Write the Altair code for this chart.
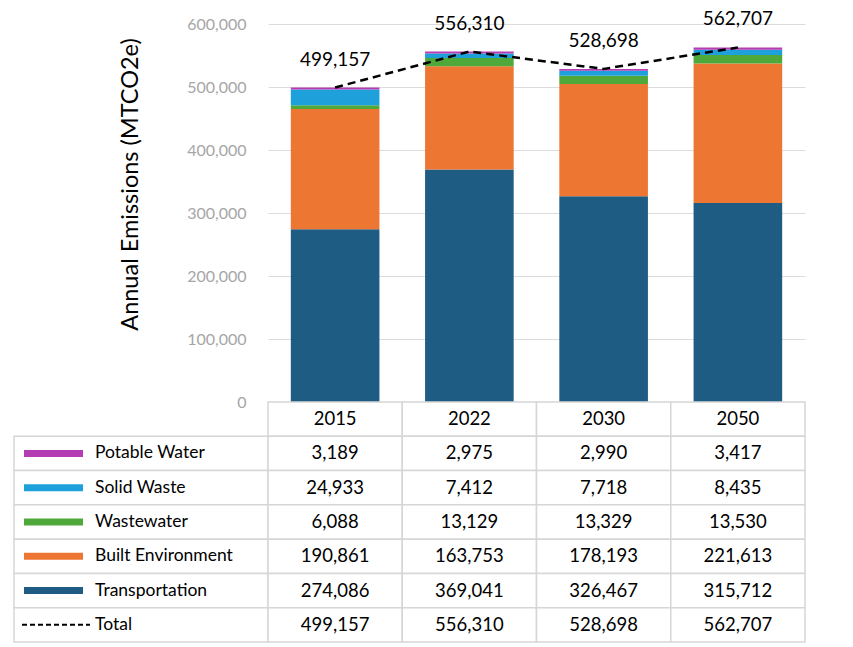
import altair as alt
import pandas as pd

years = ["2015", "2022", "2030", "2050"]
categories = ["Transportation", "Built Environment", "Wastewater", "Solid Waste", "Potable Water"]
colors = ["#1f5c83", "#ed7633", "#4ea93a", "#1ea0da", "#b53db4"]

transportation = [274086, 369041, 326467, 315712]
built_environment = [190861, 163753, 178193, 221613]
wastewater = [6088, 13129, 13329, 13530]
solid_waste = [24933, 7412, 7718, 8435]
potable_water = [3189, 2975, 2990, 3417]
total = [499157, 556310, 528698, 562707]

y_ticks = [0, 100000, 200000, 300000, 400000, 500000, 600000]
table_rows = ["header", "Potable Water", "Solid Waste", "Wastewater",
              "Built Environment", "Transportation", "Total"]

FONT = "Lato"

series = {
    "Transportation": transportation,
    "Built Environment": built_environment,
    "Wastewater": wastewater,
    "Solid Waste": solid_waste,
    "Potable Water": potable_water,
}

bar_records = []
for idx, cat in enumerate(categories):
    for y, v in zip(years, series[cat]):
        bar_records.append({"year": y, "category": cat, "value": v, "idx": idx})
bars_df = pd.DataFrame(bar_records)
tot_df = pd.DataFrame({"year": years, "value": total})

color_scale = alt.Scale(domain=categories, range=colors)
x_top = alt.X("year:N", sort=years, axis=None,
              scale=alt.Scale(paddingInner=0.34, paddingOuter=0.17))

y_axis = alt.Axis(values=y_ticks, format=",.0f", title="Annual Emissions (MTCO2e)",
                  labelColor="#a6a6a6", labelFontSize=16, labelPadding=22,
                  titleFontSize=23.5, titleFontWeight="normal", titleColor="black",
                  titleX=-138, titleY=160, titleAngle=270, titleBaseline="middle",
                  domain=False, ticks=False,
                  gridColor="#dcdcdc", labelFont=FONT, titleFont=FONT)
y_scale = alt.Scale(domain=[0, 600000])

bars = alt.Chart(bars_df).mark_bar().encode(
    x=x_top,
    y=alt.Y("value:Q", stack="zero", scale=y_scale, axis=y_axis),
    color=alt.Color("category:N", scale=color_scale, legend=None),
    order=alt.Order("idx:Q"),
)

line = alt.Chart(tot_df).mark_line(color="black", strokeDash=[8, 5], strokeWidth=2.5).encode(
    x=x_top, y=alt.Y("value:Q", scale=y_scale, axis=y_axis))

tot_text = alt.Chart(tot_df).mark_text(dy=-28, fontSize=19, font=FONT, color="black").encode(
    x=x_top, y=alt.Y("value:Q", scale=y_scale, axis=y_axis), text=alt.Text("value:Q", format=","))

top = alt.layer(bars, line, tot_text).properties(width=537, height=378)

# table
tab_records = []
for i, y in enumerate(years):
    tab_records.append({"year": y, "row": "header", "label": y})
    for cat in ["Potable Water", "Solid Waste", "Wastewater", "Built Environment", "Transportation"]:
        tab_records.append({"year": y, "row": cat, "label": f"{series[cat][i]:,}"})
    tab_records.append({"year": y, "row": "Total", "label": f"{total[i]:,}"})
tab_df = pd.DataFrame(tab_records)

lab_df = pd.DataFrame({"row": table_rows[1:]})
sw_df = pd.DataFrame({"row": categories})
tl_df = pd.DataFrame({"row": ["Total"]})

x_tab = alt.X("year:N", sort=years, axis=None, scale=alt.Scale(padding=0))
y_tab = alt.Y("row:N", sort=table_rows, axis=None, scale=alt.Scale(padding=0, domain=table_rows))
y_tab_c = alt.Y("row:N", sort=table_rows, axis=None, bandPosition=0.5,
                scale=alt.Scale(padding=0, domain=table_rows))

cells = alt.Chart(tab_df).mark_rect(fill="white", stroke="#d6d6d6", strokeWidth=1.5).encode(
    x=x_tab, y=y_tab)
cell_text = alt.Chart(tab_df).mark_text(fontSize=18.5, font=FONT, color="black").encode(
    x=x_tab, y=y_tab, text="label:N")
lab_cells = alt.Chart(lab_df).mark_rect(fill="white", stroke="#d6d6d6", strokeWidth=1.5).encode(
    x=alt.value(-254), x2=alt.value(0), y=y_tab)
lab_text = alt.Chart(lab_df).mark_text(fontSize=17.5, font=FONT, color="black", align="left").encode(
    x=alt.value(-173), y=y_tab, text="row:N")
swatches = alt.Chart(sw_df).mark_rule(strokeWidth=7).encode(
    x=alt.value(-244), x2=alt.value(-185), y=y_tab_c,
    color=alt.Color("row:N", scale=color_scale, legend=None))
tot_sw = alt.Chart(tl_df).mark_rule(strokeWidth=2, strokeDash=[5, 3], color="black").encode(
    x=alt.value(-246), x2=alt.value(-178), y=y_tab_c)

table = alt.layer(lab_cells, cells, cell_text, lab_text, swatches, tot_sw).properties(
    width=537, height=240)

chart = alt.vconcat(top, table, spacing=0, bounds="flush").configure_view(stroke=None).properties(
    padding={"left": 5, "top": 2, "right": 5, "bottom": 0})

chart.save("out.html", embed_options={"renderer": "svg", "actions": False})
